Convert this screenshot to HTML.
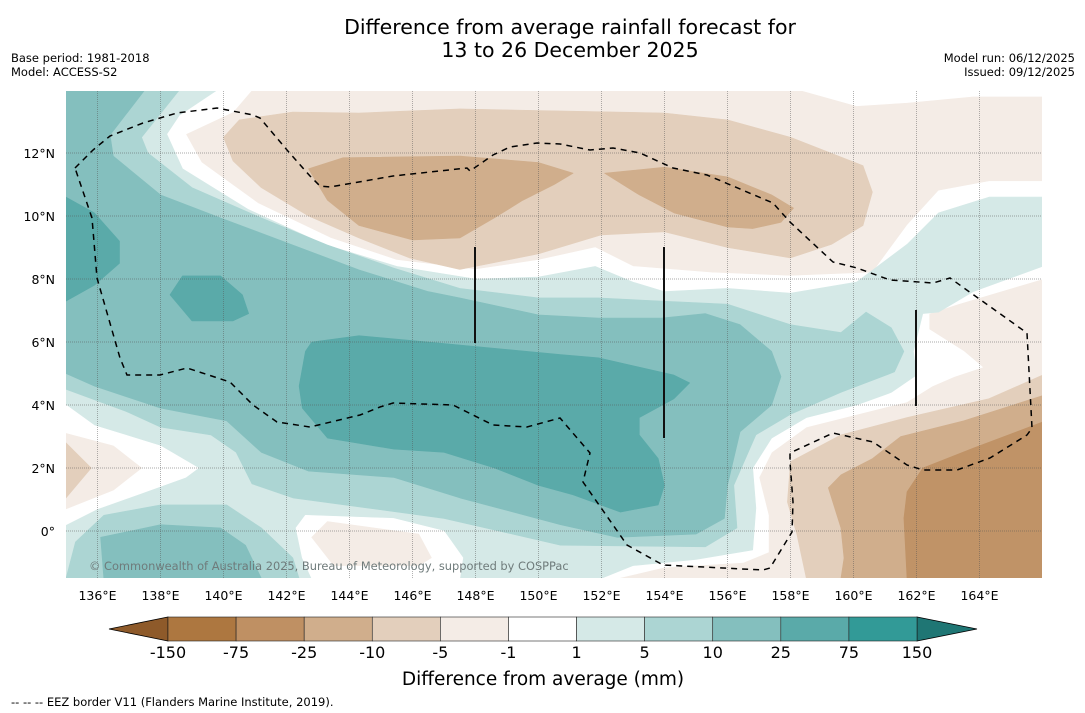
<!DOCTYPE html>
<html><head><meta charset="utf-8"><style>
body{margin:0;background:#fff;width:1085px;height:713px;overflow:hidden;font-family:"DejaVu Sans","Liberation Sans",sans-serif}
svg{position:absolute;left:0;top:0}
</style></head><body>
<svg id="chart" width="1085" height="713" viewBox="0 0 1085 713">
<defs><clipPath id="mapclip"><rect x="66" y="91" width="976" height="487"/></clipPath></defs>
<text x="570" y="34" text-anchor="middle" font-size="20.5" fill="#000">Difference from average rainfall forecast for</text>
<text x="570" y="57" text-anchor="middle" font-size="20.5" fill="#000">13 to 26 December 2025</text>
<text x="11" y="62" font-size="11.5">Base period: 1981-2018</text>
<text x="11" y="76" font-size="11.5">Model: ACCESS-S2</text>
<text x="1075" y="62" font-size="11.5" text-anchor="end">Model run: 06/12/2025</text>
<text x="1075" y="76" font-size="11.5" text-anchor="end">Issued: 09/12/2025</text>
<g id="map" clip-path="url(#mapclip)"></g>
<g id="overlay" clip-path="url(#mapclip)">
<path d="M75,168 L93,150 L110,136 L143,123 L177,113 L217,108 L253,115 L260,118 L287,150 L310,176 L320,186 L330,187 L393,176 L467,168 L470,171 L493,155 L510,147 L537,143 L560,144 L590,150 L613,148 L640,153 L673,168 L707,175 L773,203 L790,222 L833,262 L857,268 L890,280 L933,283 L950,278 L1027,333 L1032,428 L1027,435 L990,458 L957,470 L923,470 L907,465 L873,442 L833,433 L790,453 L790,462 L793,502 L792,532 L770,568 L763,570 L663,565 L627,545 L583,482 L590,453 L560,418 L527,427 L493,425 L453,405 L393,403 L380,407 L360,415 L310,427 L277,422 L253,405 L230,382 L187,368 L160,375 L127,375 L120,358 L97,278 L92,218 L75,168" fill="none" stroke="#000" stroke-width="1.5" stroke-dasharray="6,5"/>
<line x1="475" y1="247" x2="475" y2="343" stroke="#111" stroke-width="2"/>
<line x1="664" y1="247" x2="664" y2="438" stroke="#111" stroke-width="2"/>
<line x1="916" y1="310" x2="916" y2="406" stroke="#111" stroke-width="2"/>
<text x="89" y="570" font-size="11.4" fill="#6f7b7b">© Commonwealth of Australia 2025, Bureau of Meteorology, supported by COSPPac</text>
</g>
<g id="axes"></g>
<g id="cbar"></g>
<text x="543" y="685" text-anchor="middle" font-size="18.5">Difference from average (mm)</text>
<text x="11" y="706" font-size="11.5">--  --  -- EEZ border V11 (Flanders Marine Institute, 2019).</text>
</svg>
<script>
const lonTicks=[136,138,140,142,144,146,148,150,152,154,156,158,160,162,164];
const latTicks=[0,2,4,6,8,10,12];
const cbarLevels=["-150","-75","-25","-10","-5","-1","1","5","10","25","75","150"];
const cbarColors=["#ad7740","#bf9063","#d0ae8c","#e3cfbc","#f4ece6","#ffffff","#d5e9e7","#acd5d3","#84bfbe","#5aaaa9","#329a97"];
const cbarLow="#8e5a2a", cbarHigh="#1f7674";
const white=[[135,14],[140.9,14],[140.3,13.3],[138.8,12.6],[139.3,11.7],[141.1,10.4],[143.4,9.3],[145.5,8.6],[148,8.3],[150,8.6],[151.8,9.0],[153,8.4],[155.5,8.2],[158,8.1],[160.6,8.2],[161.7,9.7],[162.7,10.8],[164.3,11.1],[166,11.1],[166,8.0],[163.3,7.2],[162.4,6.9],[162.4,6.4],[163.5,5.7],[164.1,5.2],[163.2,4.9],[162.5,4.6],[161.7,4.1],[160.1,3.7],[158.5,3.3],[157.4,2.5],[157.0,1.7],[157.3,0.5],[157.3,-0.67],[156.5,-1.0],[154,-1.15],[152.5,-1.5],[135,-1.5]];
const teal1=[[135,14],[139.8,14],[138.6,13.2],[138.2,12.6],[138.7,11.5],[140.8,10.2],[143.2,9.1],[145.5,8.4],[148,8.0],[150,8.06],[151.8,8.4],[153,7.9],[154,7.6],[156,7.7],[158,7.55],[160.1,7.9],[161.7,9.1],[162.7,10.1],[164.3,10.6],[166,10.6],[166,8.4],[163.8,7.6],[162.7,6.95],[162.2,6.9],[161.9,5.7],[162.0,4.95],[161.2,4.4],[160.1,4.0],[158.5,3.6],[157.4,2.95],[156.8,2.0],[156.9,0.73],[156.8,-0.6],[155,-0.9],[153,-1.1],[152,-1.5],[135,-1.5]];
const teal2=[[135,14],[138.6,14],[137.4,12.5],[137.6,12],[139.0,10.9],[141.2,9.94],[143.3,9.08],[145.4,8.35],[147.5,7.7],[150,7.4],[151.9,7.4],[153.9,7.3],[156,7.2],[158,6.55],[159.6,6.3],[160.4,6.95],[161.2,6.45],[161.6,5.7],[161.3,5.05],[159.6,4.4],[158,3.7],[156.9,3.05],[156.2,1.45],[156.3,0.1],[155.3,-0.5],[150.7,-0.45],[147,0.4],[142.2,1.05],[140.9,1.5],[140.4,2.5],[139.6,3.05],[138,3.3],[136.9,3.8],[135,4.5]];
const teal3=[[135,14],[137.5,14],[136.4,12.57],[136.5,11.9],[138.0,10.67],[139.9,9.94],[142.2,9.08],[144.3,8.29],[146.5,7.6],[147.5,7.4],[150,6.86],[151.9,6.76],[153.9,6.76],[155.3,6.9],[156.4,6.55],[157.4,5.7],[157.7,4.9],[157.4,4.0],[156.4,3.15],[156.0,1.45],[155.9,0.4],[155.0,-0.1],[152.5,-0.2],[150.7,0.2],[147.5,1.05],[145.4,1.7],[142.7,1.9],[141.2,2.5],[140.1,3.5],[138.0,3.9],[135.9,4.6],[135,5.0]];
const teal4main=[[142.8,6.0],[144.3,6.2],[146.5,6.0],[150.7,5.6],[151.9,5.5],[154.3,4.95],[154.8,4.7],[154.3,4.2],[153.2,3.6],[153.2,3.05],[153.8,2.3],[154.0,1.45],[153.8,0.83],[152.6,0.6],[151.1,1.15],[150.0,1.45],[148.6,2.0],[147.0,2.5],[145.4,2.6],[143.3,2.95],[142.5,3.9],[142.4,4.6],[142.6,5.7]];
const teal4left=[[135,10.6],[135.9,10.1],[136.7,9.2],[136.7,8.5],[135.9,7.8],[135,7.3]];
const teal4small=[[138.7,8.1],[139.9,8.1],[140.6,7.5],[140.8,6.9],[140.3,6.67],[139.0,6.67],[138.3,7.5]];
const teal2sw=[[135.3,-0.35],[136.2,0.5],[138,0.83],[140.1,0.83],[141.2,0.1],[142.2,-0.85],[142.4,-1.5],[135,-1.5]];
const teal3sw=[[136.1,-0.2],[138,0.2],[139.9,0.1],[140.7,-0.45],[141.2,-1.5],[136.2,-1.5]];
const whiteW=[[135,4.0],[135.9,3.35],[138,2.7],[139.2,2.0],[138.8,1.7],[137.4,1.2],[136,0.7],[135,0.2]];
const brownW1=[[135,3.1],[136.5,2.7],[137.4,2.0],[136.5,1.3],[135,0.7]];
const brownW2=[[135,2.8],[135.8,2.0],[135,1.05]];
const whiteS=[[142.3,0.1],[142.6,0.5],[145.4,0.4],[147.0,0.0],[147.6,-0.85],[147.5,-1.5],[142.8,-1.5],[142.5,-0.85]];
const brownS=[[142.8,-0.2],[143.3,0.3],[146.2,-0.1],[146.6,-0.85],[146.2,-1.1],[143.5,-1.1]];
const whiteNE=[[158.3,14],[160.1,13.5],[161.7,13.6],[163.8,13.8],[166,13.8],[166,14]];
const brownN1=[[140.0,12.5],[140.5,13.05],[142.2,13.3],[144.3,13.27],[147.5,13.4],[150,13.35],[154,13.27],[156,13.05],[158,12.5],[160.3,11.6],[160.6,10.76],[160.3,9.7],[159.3,9.1],[158,8.67],[156,9.0],[154,9.5],[152,9.4],[150,8.8],[147.5,8.3],[145.9,8.67],[144.3,9.3],[142.7,10.0],[141.2,10.9],[140.3,11.75]];
const brownN2a=[[142.7,11.5],[143.8,11.85],[147.5,11.9],[150,11.7],[151.1,11.36],[150.5,11.0],[149.5,10.5],[148.6,9.94],[147.5,9.3],[146,9.24],[144.3,9.7],[143.3,10.5]];
const brownN2b=[[152.1,11.36],[154,11.55],[156,11.24],[157.4,10.67],[158.1,10.25],[157.7,9.8],[156.8,9.6],[156,9.65],[154.3,10.1],[153.2,10.67]];
const brownE1=[[166,4.95],[164.3,4.2],[161.7,3.6],[159.6,3.05],[158,2.2],[157.9,0.92],[158.2,-0.1],[158.5,-1.5],[166,-1.5]];
const brownE2=[[166,4.3],[163.5,3.5],[161.5,3.0],[160.6,2.3],[159.6,1.78],[159.2,1.37],[159.6,0.1],[159.7,-0.86],[159.6,-1.5],[166,-1.5]];
const brownE3=[[166,3.46],[163.8,2.63],[162.2,2.0],[161.7,1.24],[161.6,0.41],[161.7,-1.5],[166,-1.5]];

const NS="http://www.w3.org/2000/svg";
const X=lon=>66+(lon-135)*31.5;
const Y=lat=>531-lat*31.5;
function poly(parent,pts,fill,name){
  const p=document.createElementNS(NS,'polygon');
  p.setAttribute('points',pts.map(q=>X(q[0]).toFixed(1)+','+Y(q[1]).toFixed(1)).join(' '));
  p.setAttribute('fill',fill);
  p.setAttribute('stroke',fill);
  p.setAttribute('stroke-width','0.6');
  p.setAttribute('stroke-linejoin','round');
  
  
  parent.appendChild(p);
}
const map=document.getElementById('map');
const bg=document.createElementNS(NS,'rect');
bg.setAttribute('x',66);bg.setAttribute('y',91);bg.setAttribute('width',976);bg.setAttribute('height',487);bg.setAttribute('fill','#f4ece6');


map.appendChild(bg);
const L=[[white,'#ffffff','contour-neutral'],[teal1,'#d5e9e7','contour-wet-1-5'],[teal2,'#acd5d3','contour-wet-5-10'],[teal3,'#84bfbe','contour-wet-10-25'],[teal2sw,'#acd5d3','contour-wet-5-10-sw'],[teal3sw,'#84bfbe','contour-wet-10-25-sw'],[teal4main,'#5aaaa9','contour-wet-25-75'],[teal4left,'#5aaaa9','contour-wet-25-75-west'],[teal4small,'#5aaaa9','contour-wet-25-75-small'],[whiteW,'#ffffff','contour-neutral-west'],[brownW1,'#f4ece6','contour-dry-west-1'],[brownW2,'#e3cfbc','contour-dry-west-2'],[whiteS,'#ffffff','contour-neutral-south'],[brownS,'#f4ece6','contour-dry-south'],[whiteNE,'#ffffff','contour-neutral-ne'],[brownN1,'#e3cfbc','contour-dry-north-10'],[brownN2a,'#d0ae8c','contour-dry-north-25a'],[brownN2b,'#d0ae8c','contour-dry-north-25b'],[brownE1,'#e3cfbc','contour-dry-east-10'],[brownE2,'#d0ae8c','contour-dry-east-25'],[brownE3,'#c09367','contour-dry-east-75']];
L.forEach(l=>poly(map,l[0],l[1],l[2]));
lonTicks.forEach(lon=>{
  const g=document.createElementNS(NS,'line');
  g.setAttribute('x1',X(lon));g.setAttribute('x2',X(lon));g.setAttribute('y1',91);g.setAttribute('y2',578);
  g.setAttribute('stroke','#555');g.setAttribute('stroke-opacity','0.45');g.setAttribute('stroke-width','1');g.setAttribute('stroke-dasharray','1,1');
  
  
  map.appendChild(g);
});
latTicks.forEach(lat=>{
  const g=document.createElementNS(NS,'line');
  g.setAttribute('y1',Y(lat));g.setAttribute('y2',Y(lat));g.setAttribute('x1',66);g.setAttribute('x2',1042);
  g.setAttribute('stroke','#555');g.setAttribute('stroke-opacity','0.5');g.setAttribute('stroke-width','1');g.setAttribute('stroke-dasharray','1,1');
  
  
  map.appendChild(g);
});
const axes=document.getElementById('axes');
lonTicks.forEach(lon=>{
  const t=document.createElementNS(NS,'text');
  t.setAttribute('x',X(lon));t.setAttribute('y',600);t.setAttribute('text-anchor','middle');t.setAttribute('font-size','12.5');
  t.textContent=lon+'°E';
  
  
  axes.appendChild(t);
});
latTicks.forEach(lat=>{
  const t=document.createElementNS(NS,'text');
  t.setAttribute('x',55);t.setAttribute('y',Y(lat)+5);t.setAttribute('text-anchor','end');t.setAttribute('font-size','12.5');
  t.textContent=lat===0?'0°':lat+'°N';
  
  
  axes.appendChild(t);
});
const cb=document.getElementById('cbar');
const cx0=168,cx1=917,cy0=617,cy1=641,n=cbarColors.length,bw=(cx1-cx0)/n;
const lt=document.createElementNS(NS,'polygon');
lt.setAttribute('points',`${cx0},${cy0} ${cx0},${cy1} 109,${(cy0+cy1)/2}`);
lt.setAttribute('fill',cbarLow);lt.setAttribute('stroke','#000');lt.setAttribute('stroke-width','0.8');


cb.appendChild(lt);
const rt=document.createElementNS(NS,'polygon');
rt.setAttribute('points',`${cx1},${cy0} ${cx1},${cy1} 977,${(cy0+cy1)/2}`);
rt.setAttribute('fill',cbarHigh);rt.setAttribute('stroke','#000');rt.setAttribute('stroke-width','0.8');


cb.appendChild(rt);
cbarColors.forEach((c,i)=>{
  const r=document.createElementNS(NS,'rect');
  r.setAttribute('x',cx0+i*bw);r.setAttribute('y',cy0);r.setAttribute('width',bw);r.setAttribute('height',cy1-cy0);
  r.setAttribute('fill',c);r.setAttribute('stroke','#222');r.setAttribute('stroke-width','0.6');
  
  
  cb.appendChild(r);
});
cbarLevels.forEach((v,i)=>{
  const t=document.createElementNS(NS,'text');
  t.setAttribute('x',cx0+i*bw);t.setAttribute('y',658);t.setAttribute('text-anchor','middle');t.setAttribute('font-size','16');
  t.textContent=v;
  
  
  cb.appendChild(t);
});
</script>
</body></html>
